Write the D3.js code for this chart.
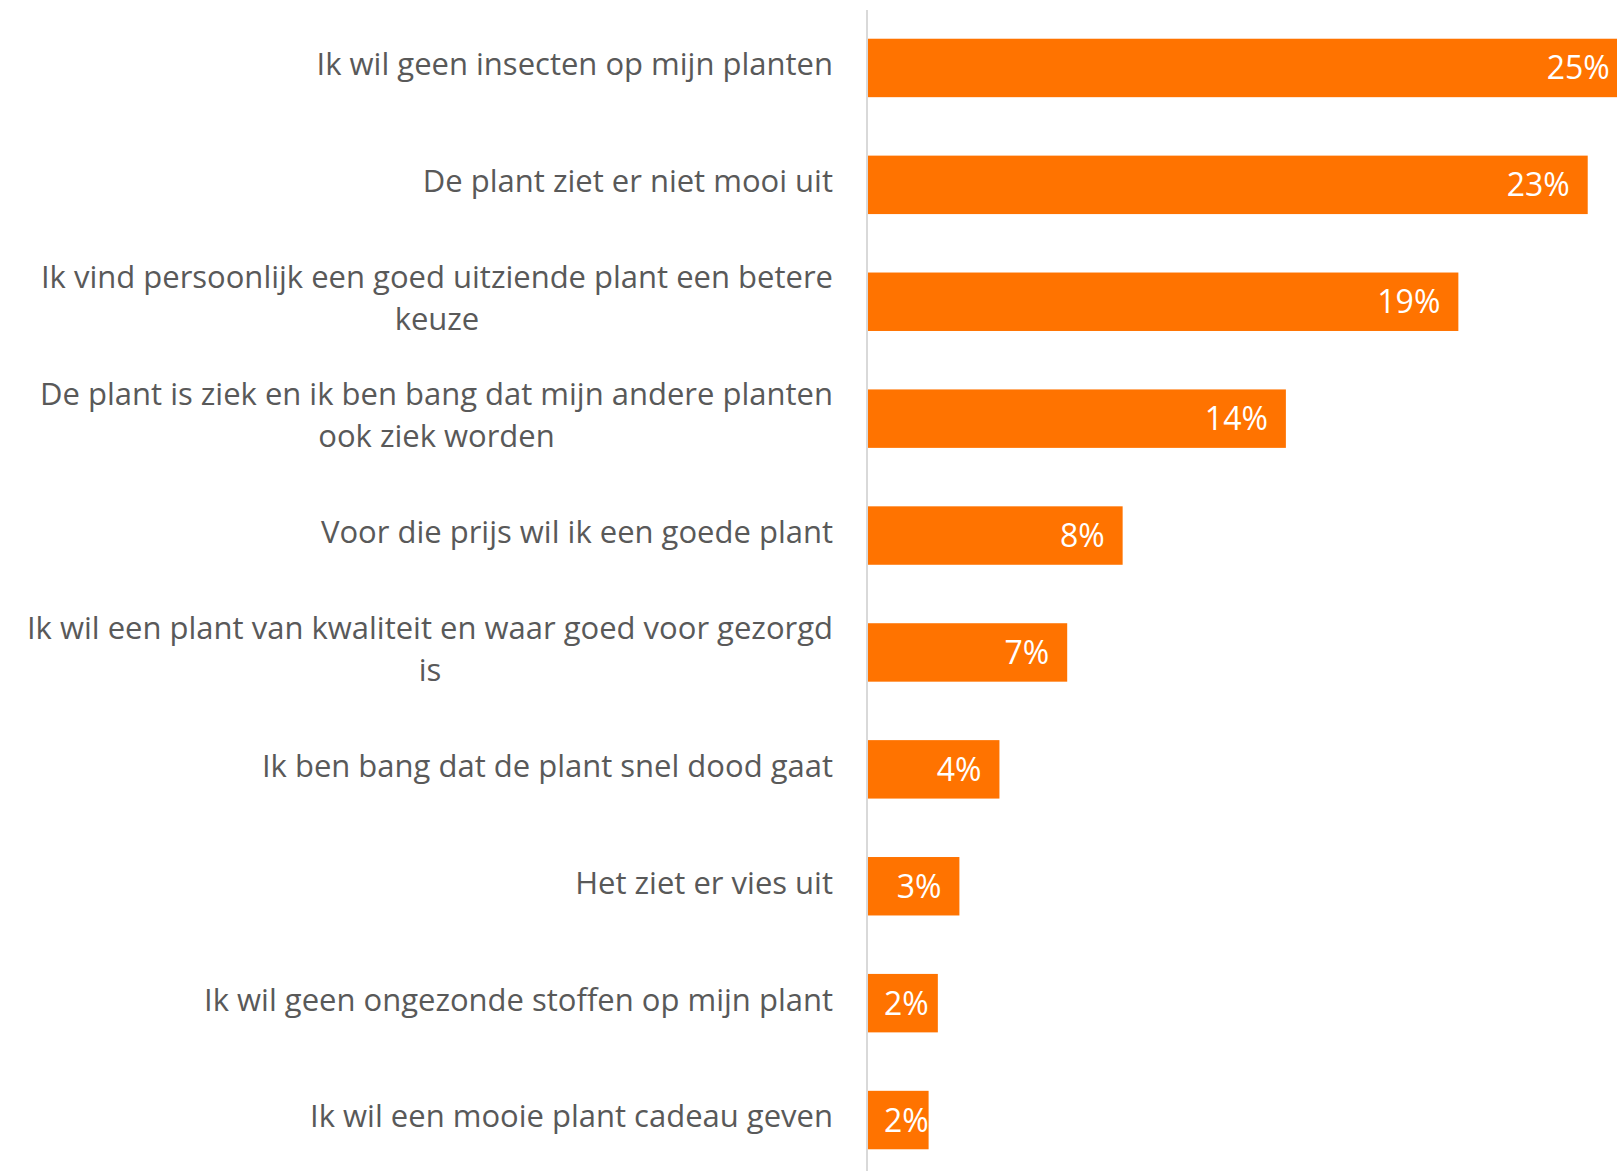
<!DOCTYPE html>
<html>
<head>
<meta charset="utf-8">
<script src="https://cdn.jsdelivr.net/npm/d3@7"></script>
<style>
  html, body { margin: 0; padding: 0; background: #fff; overflow: hidden; }
  svg { display: block; }
</style>
</head>
<body>
<svg id="chart" width="1617" height="1171"></svg>
<script>
const categories = [
  "Ik wil geen insecten op mijn planten",
  "De plant ziet er niet mooi uit",
  "Ik vind persoonlijk een goed uitziende plant een betere keuze",
  "De plant is ziek en ik ben bang dat mijn andere planten ook ziek worden",
  "Voor die prijs wil ik een goede plant",
  "Ik wil een plant van kwaliteit en waar goed voor gezorgd is",
  "Ik ben bang dat de plant snel dood gaat",
  "Het ziet er vies uit",
  "Ik wil geen ongezonde stoffen op mijn plant",
  "Ik wil een mooie plant cadeau geven"
];
const values = [24.7, 23.4, 19.2, 13.6, 8.3, 6.5, 4.3, 3.0, 2.3, 2.0];
const labels = ["25%", "23%", "19%", "14%", "8%", "7%", "4%", "3%", "2%", "2%"];

const W = 1617, H = 1171;
const axisX = 867;
const FONT = "'Open Sans', sans-serif";
const svg = d3.select("#chart");

const x = d3.scaleLinear().domain([0, 25]).range([axisX, axisX + 770]);
const y = d3.scaleBand().domain(categories).range([9.5, 1178.5])
  .paddingInner(0.5).paddingOuter(0.25);

const data = categories.map((c, i) => ({ c, v: values[i], l: labels[i], i }));

const defs = svg.append("defs");
data.forEach(d => {
  defs.append("clipPath").attr("id", "clip" + d.i)
    .append("rect")
    .attr("x", x(0)).attr("y", y(d.c))
    .attr("width", x(d.v) - x(0)).attr("height", y.bandwidth());
});

svg.append("g").selectAll("rect").data(data).join("rect")
  .attr("x", x(0))
  .attr("y", d => y(d.c))
  .attr("width", d => x(d.v) - x(0))
  .attr("height", y.bandwidth())
  .attr("fill", "#FF7300");

svg.append("line")
  .attr("x1", axisX).attr("x2", axisX)
  .attr("y1", 10).attr("y2", H)
  .attr("stroke", "#d9d9d9").attr("stroke-width", 2);

const pad = 18;
const vl = svg.append("g").selectAll("text").data(data).join("text")
  .attr("clip-path", d => `url(#clip${d.i})`)
  .attr("y", d => y(d.c) + y.bandwidth() / 2)
  .attr("dy", "0.36em")
  .attr("text-anchor", "end")
  .attr("fill", "#ffffff")
  .style("font-family", FONT)
  .style("font-size", "32px")
  .text(d => d.l);
vl.each(function(d) {
  const w = this.getComputedTextLength();
  const xe = Math.max(x(d.v) - pad, x(0) + 17 + w);
  d3.select(this).attr("x", xe);
});

const maxW = 822;
const lineH = 42.5;
const cg = svg.append("g");
data.forEach(d => {
  const t = cg.append("text")
    .attr("fill", "#595959")
    .style("font-family", FONT)
    .style("font-size", "31px")
    .attr("text-anchor", "middle");
  const words = d.c.split(" ");
  const lines = [];
  let cur = [];
  const probe = t.append("tspan");
  words.forEach(w => {
    const test = cur.concat([w]).join(" ");
    probe.text(test);
    if (probe.node().getComputedTextLength() > maxW && cur.length) {
      lines.push(cur.join(" "));
      cur = [w];
    } else cur.push(w);
  });
  lines.push(cur.join(" "));
  probe.remove();
  let wmax = 0;
  const spans = lines.map(ln => {
    const s = t.append("tspan").text(ln);
    wmax = Math.max(wmax, s.node().getComputedTextLength());
    return s;
  });
  const right = 833;
  const cx = right - wmax / 2;
  const yc = y(d.c) + y.bandwidth() / 2 - 3.5;
  const y0 = yc - (lines.length - 1) * lineH / 2;
  spans.forEach((s, k) => {
    s.attr("x", cx).attr("y", y0 + k * lineH).attr("dy", "0.35em");
  });
});
</script>
</body>
</html>
